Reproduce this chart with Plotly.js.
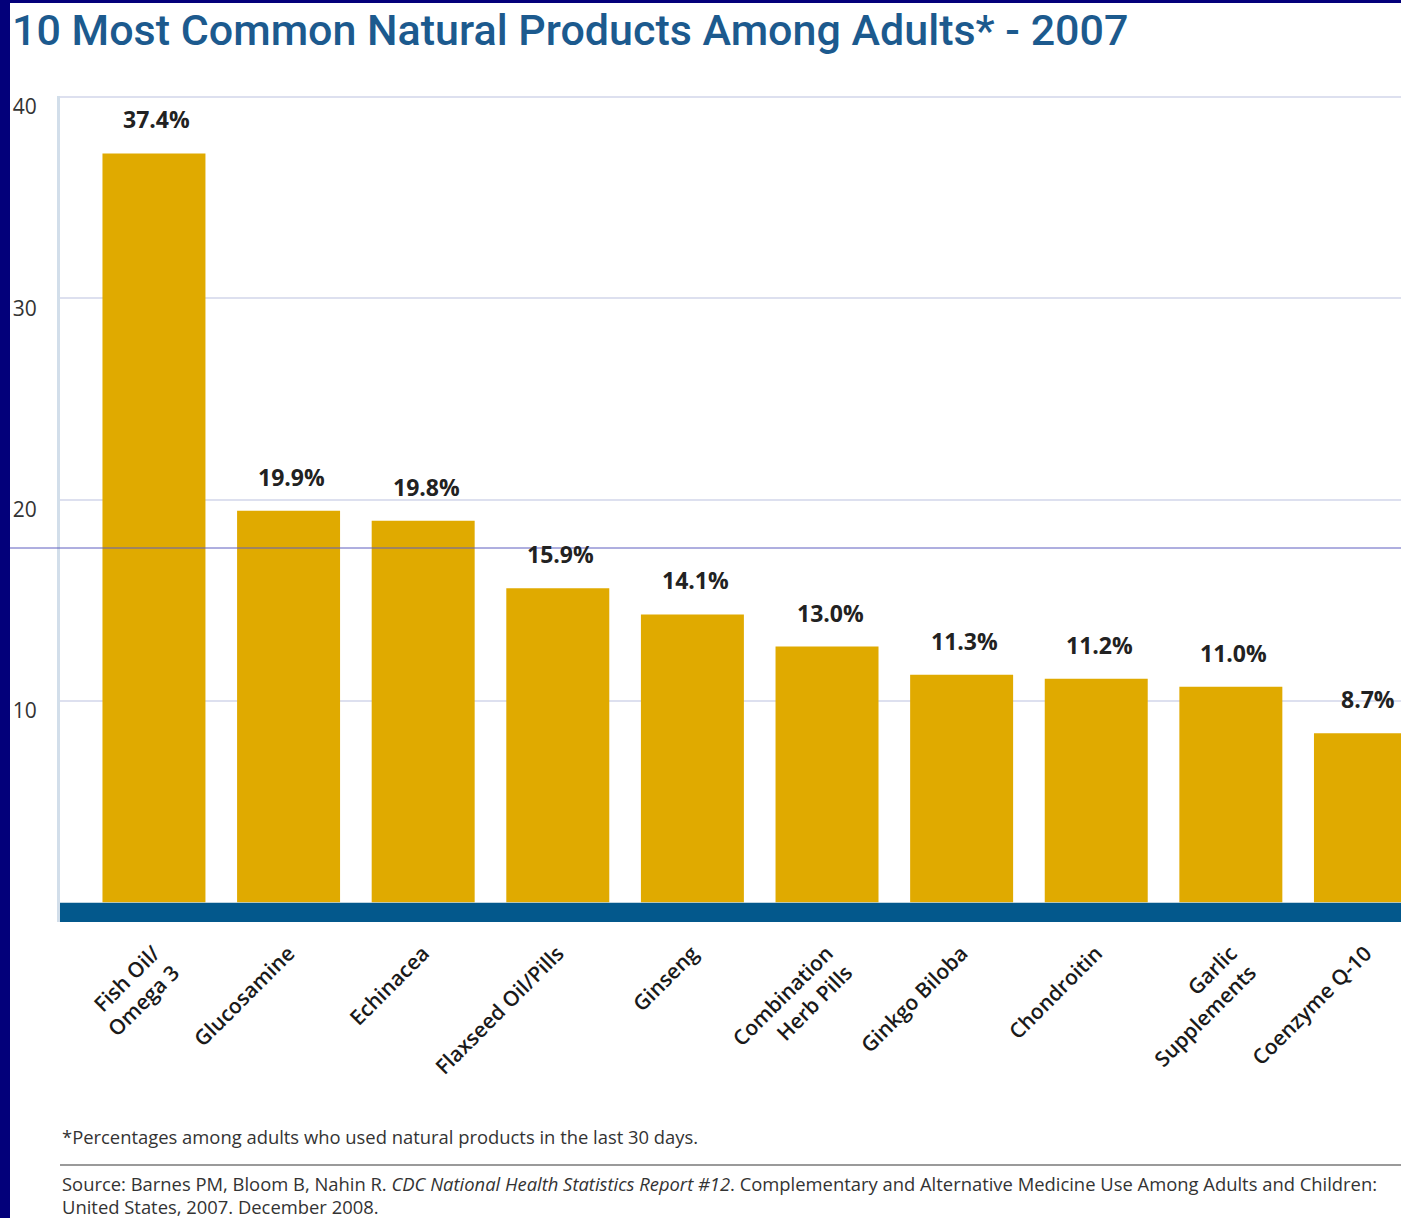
<!DOCTYPE html>
<html>
<head>
<meta charset="utf-8">
<script src="https://cdn.plot.ly/plotly-3.0.1.min.js"></script>
<style>
  html, body { margin: 0; padding: 0; background: #ffffff; }
  #chart { width: 1401px; height: 1218px; }
</style>
</head>
<body>
<div id="chart"></div>
<script>
// ---- data ----
const categories = ["Fish Oil/<br>Omega 3", "Glucosamine", "Echinacea", "Flaxseed Oil/Pills", "Ginseng",
                    "Combination<br>Herb Pills", "Ginkgo Biloba", "Chondroitin", "Garlic<br>Supplements", "Coenzyme Q-10"];
const barHeights = [37.2, 19.45, 18.95, 15.6, 14.3, 12.7, 11.3, 11.1, 10.7, 8.4];
const percentLabels = ["37.4%", "19.9%", "19.8%", "15.9%", "14.1%", "13.0%", "11.3%", "11.2%", "11.0%", "8.7%"];
const yTickValues = [10, 20, 30, 40];
const yTickLabels = ["10", "20", "30", "40"];
const titleText = "10 Most Common Natural Products Among Adults* - 2007";
const footnoteText = "*Percentages among adults who used natural products in the last 30 days.";
const sourceLine1 = "Source: Barnes PM, Bloom B, Nahin R. <i>CDC National Health Statistics Report #12</i>. Complementary and Alternative Medicine Use Among Adults and Children:";
const sourceLine2 = "United States, 2007. December 2008.";

// ---- layout geometry (pixels) ----
const W = 1401, H = 1218;
const M = { l: 60, r: 0, t: 96, b: 296 };
const plotW = W - M.l - M.r, plotH = H - M.t - M.b;
const px = p => (p - M.l) / plotW;        // page x pixel -> paper x
const py = p => (H - M.b - p) / plotH;    // page y pixel -> paper y

const gold = "#E0AA00";
const navy = "#03007A";
const steel = "#03588C";

const trace = {
  type: "bar",
  x: categories,
  y: barHeights,
  marker: { color: gold, line: { width: 0 } },
  hoverinfo: "skip"
};

const annotations = categories.map((c, i) => ({
  x: c, y: barHeights[i], xref: "x", yref: "y",
  text: percentLabels[i], showarrow: false,
  xanchor: "center", yanchor: "middle", yshift: 34, xshift: 3,
  font: { family: "Open Sans, sans-serif", size: 23, weight: 700, color: "#222222" }
}));

const noteFont = { family: "Open Sans, sans-serif", size: 18.4, color: "#333333" };
annotations.push({
  xref: "paper", yref: "paper", x: 0, y: py(1136), xanchor: "left", yanchor: "middle",
  text: footnoteText, showarrow: false, font: noteFont
});
annotations.push({
  xref: "paper", yref: "paper", x: 0, y: py(1183), xanchor: "left", yanchor: "middle",
  text: sourceLine1, showarrow: false, font: noteFont
});
annotations.push({
  xref: "paper", yref: "paper", x: 0, y: py(1206), xanchor: "left", yanchor: "middle",
  text: sourceLine2, showarrow: false, font: noteFont
});

const shapes = [
  // dark blue baseline band
  { type: "rect", xref: "paper", yref: "y", x0: 0, x1: 1, y0: -0.03, y1: -0.98,
    fillcolor: steel, line: { width: 0 }, layer: "above" },
  // navy frame: left strip and top strip
  { type: "rect", xref: "paper", yref: "paper", x0: px(0), x1: px(10), y0: py(H + 5), y1: py(-5),
    fillcolor: navy, line: { width: 0 }, layer: "above" },
  { type: "rect", xref: "paper", yref: "paper", x0: px(0), x1: px(W + 5), y0: py(3), y1: py(-5),
    fillcolor: navy, line: { width: 0 }, layer: "above" },
  // thin horizontal rule crossing the chart
  { type: "line", xref: "paper", yref: "paper", x0: px(10), x1: px(W + 5), y0: py(548), y1: py(548),
    line: { color: "#5F5FC0", width: 1 }, layer: "above" },
  // separator above the source line
  { type: "line", xref: "paper", yref: "paper", x0: 0, x1: px(W + 5), y0: py(1165), y1: py(1165),
    line: { color: "#9A9A9A", width: 2 }, layer: "above" }
];

const layout = {
  width: W, height: H,
  margin: M,
  paper_bgcolor: "#ffffff",
  plot_bgcolor: "#ffffff",
  showlegend: false,
  bargap: 0.235,
  title: {
    text: titleText,
    xref: "container", yref: "container",
    x: 12 / W, xanchor: "left",
    y: 1 - 30 / H, yanchor: "middle",
    font: { family: "Roboto, Open Sans, sans-serif", size: 43, weight: 500, color: "#1C5A8E" }
  },
  xaxis: {
    type: "category",
    range: [-0.698, 9.264],
    tickangle: -45,
    ticks: "",
    showgrid: false,
    zeroline: false,
    showline: false,
    ticklabelstandoff: 14,
    tickfont: { family: "Open Sans, sans-serif", size: 21, weight: 600, color: "#1a1a1a" },
    automargin: false,
    fixedrange: true
  },
  yaxis: {
    range: [-0.98, 40.05],
    tickmode: "array",
    tickvals: yTickValues,
    ticktext: yTickLabels,
    ticks: "",
    showgrid: true,
    gridcolor: "#DDE0EF",
    gridwidth: 2,
    zeroline: false,
    showline: true,
    linecolor: "#D2DEEA",
    linewidth: 3,
    ticklabelstandoff: 16,
    ticklabelshift: 10,
    tickfont: { family: "Open Sans, sans-serif", size: 21, color: "#333333" },
    automargin: false,
    fixedrange: true
  },
  annotations: annotations,
  shapes: shapes
};

Plotly.newPlot("chart", [trace], layout, { displayModeBar: false, staticPlot: true });
</script>
</body>
</html>
